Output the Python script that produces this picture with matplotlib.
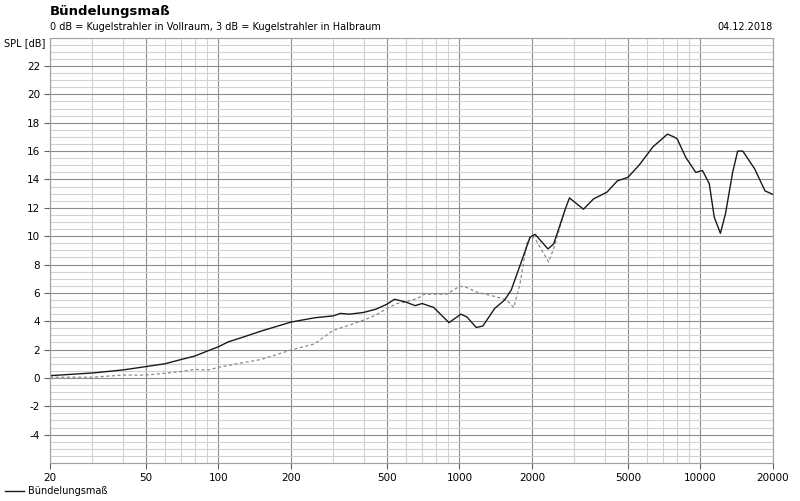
import numpy as np
import matplotlib
matplotlib.use('Agg')
import matplotlib.pyplot as plt
from matplotlib.ticker import FixedLocator, NullFormatter

# Bündelungsmaß (solid) - frequency [Hz] / level [dB]
freq_main = [20, 30, 40, 50, 60, 70, 80, 90, 100, 110, 120, 150, 200, 250, 300, 320,
             350, 400, 450, 500, 538, 600, 654, 700, 782, 905, 1014, 1074, 1174, 1250,
             1400, 1540, 1640, 1785, 1965, 2060, 2330, 2460, 2735, 2860, 3270, 3600,
             4090, 4520, 5000, 5560, 6350, 7300, 7760, 8010, 8690, 9560, 10200, 10880,
             11410, 12100, 12700, 13600, 14270, 14990, 16800, 18520, 20000]
spl_main = [0.16, 0.35, 0.56, 0.8, 1.0, 1.3, 1.55, 1.9, 2.2, 2.55, 2.75, 3.3, 3.94, 4.24,
            4.38, 4.55, 4.5, 4.62, 4.85, 5.2, 5.55, 5.35, 5.1, 5.25, 4.97, 3.9, 4.5, 4.3,
            3.56, 3.66, 4.9, 5.5, 6.2, 7.95, 9.94, 10.13, 9.1, 9.45, 11.8, 12.7, 11.9,
            12.63, 13.1, 13.9, 14.15, 15.0, 16.3, 17.2, 17.0, 16.86, 15.56, 14.5, 14.63,
            13.7, 11.34, 10.2, 11.58, 14.5, 16.0, 16.0, 14.74, 13.2, 12.94]

# Vergleichskurve (gestrichelt)
freq_ref = [20, 30, 40, 50, 60, 70, 80, 90, 100, 122, 150, 200, 250, 300, 350, 400, 450,
            500, 550, 600, 668, 713, 882, 1003, 1070, 1174, 1420, 1570, 1680, 1785, 1900,
            1990, 2080, 2345, 2460, 2735]
spl_ref = [0.05, 0.05, 0.2, 0.2, 0.33, 0.45, 0.6, 0.55, 0.75, 1.03, 1.3, 1.97, 2.4, 3.37,
           3.73, 4.08, 4.43, 4.9, 5.25, 5.37, 5.6, 5.9, 5.9, 6.47, 6.38, 6.07, 5.72, 5.5,
           4.97, 6.66, 9.47, 10.06, 9.7, 8.18, 9.12, 11.8]

major_x = [20, 50, 100, 200, 500, 1000, 2000, 5000, 10000, 20000]
major_x_labels = ['20', '50', '100', '200', '500', '1000', '2000', '5000', '10000', '20000']

plt.rcParams['font.family'] = ['DejaVu Sans']
plt.rcParams['axes.unicode_minus'] = False

fig = plt.figure(figsize=(8, 5.01), dpi=100)
ax = fig.add_axes([50 / 800, 1 - 463 / 501, 723 / 800, 425.3 / 501])

ax.set_xscale('log')
ax.set_xlim(20, 20000)
ax.set_ylim(-6, 24)

minor_x = []
for dec in [10, 100, 1000, 10000]:
    for m in range(2, 10):
        v = m * dec
        if 20 < v < 20000 and v not in major_x:
            minor_x.append(v)

ax.xaxis.set_major_locator(FixedLocator(major_x))
ax.set_xticklabels(major_x_labels)
ax.xaxis.set_minor_locator(FixedLocator(minor_x))
ax.xaxis.set_minor_formatter(NullFormatter())

ax.yaxis.set_major_locator(FixedLocator(np.arange(-4, 23, 2)))
ax.yaxis.set_minor_locator(FixedLocator(np.arange(-6, 24.1, 0.5)))

ax.grid(which='major', color='#8c8c8c', lw=0.8)
ax.grid(which='minor', color='#d2d2d2', lw=0.8)
ax.set_axisbelow(True)

ax.tick_params(which='major', length=4, width=0.8, color='#606060', labelsize=7.5,
               pad=3)
ax.tick_params(which='minor', length=0)
for s in ax.spines.values():
    s.set_color('#a0a0a0')
    s.set_linewidth(0.8)

ax.plot(freq_ref, spl_ref, color='#8a8a8a', lw=0.9, ls=(0, (2.5, 2)))
line, = ax.plot(freq_main, spl_main, color='#1a1a1a', lw=1.0)

fig.text(50 / 800, 1 - 12 / 501, 'Bündelungsmaß', fontsize=9.5, fontweight='bold',
         va='center', ha='left')
fig.text(50 / 800, 1 - 27 / 501,
         '0 dB = Kugelstrahler in Vollraum, 3 dB = Kugelstrahler in Halbraum',
         fontsize=7, va='center', ha='left')
fig.text(773 / 800, 1 - 27 / 501, '04.12.2018', fontsize=7, va='center', ha='right')
fig.text(45 / 800, 1 - 43 / 501, 'SPL [dB]', fontsize=7, va='center', ha='right')

fig.legend([line], ['Bündelungsmaß'], loc='lower left', bbox_to_anchor=(0, 0),
           frameon=False, fontsize=7, handlelength=2, borderaxespad=0.2,
           handletextpad=0.4, borderpad=0.3)

fig.savefig('out.png', dpi=100)
